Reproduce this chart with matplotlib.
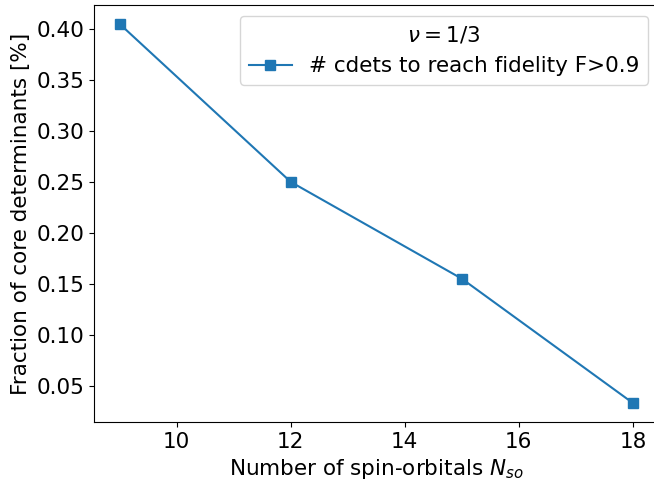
import matplotlib
matplotlib.use("Agg")
import matplotlib.pyplot as plt

n_so = [9, 12, 15, 18]
frac_cdets = [0.405, 0.250, 0.155, 0.033]
x_ticks = [10, 12, 14, 16, 18]

plt.rcParams['font.size'] = 15.5

fig = plt.figure(figsize=(6.54, 4.83), dpi=100)
# the original image is cropped on the right, so the axes run past the canvas
ax = fig.add_axes([0.1437, 0.1263, 0.8633, 0.8634])

ax.plot(n_so, frac_cdets, marker='s', markersize=7, linewidth=1.5, color='#1f77b4',
        label='# cdets to reach fidelity F>0.9')
ax.set_xticks(x_ticks)
ax.set_xlabel(r'Number of spin-orbitals $N_{so}$')
ax.set_ylabel('Fraction of core determinants [%]')
ax.spines['right'].set_visible(False)
ax.legend(title=r'$\nu = 1/3$', loc='upper right', title_fontsize=15.5)

fig.savefig('out.png', dpi=100)
